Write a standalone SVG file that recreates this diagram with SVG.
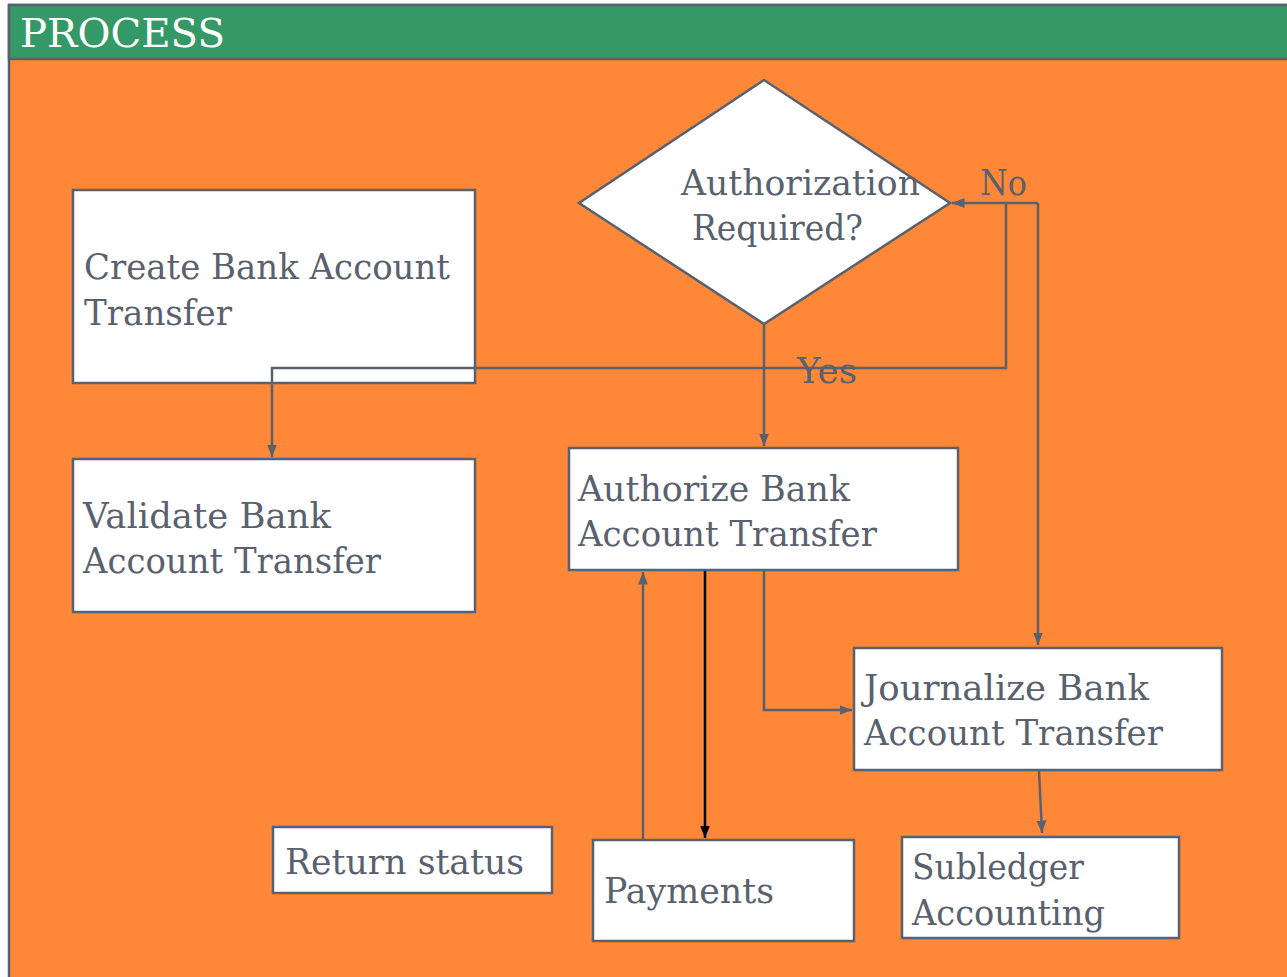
<svg xmlns="http://www.w3.org/2000/svg" width="1287" height="977" viewBox="0 0 1287 977">
<style>
.box{fill:#fff;stroke:#59616e;stroke-width:2.5}
.t{font-family:"DejaVu Serif","Liberation Serif",serif;font-size:36px;fill:#59616e}
.c{fill:none;stroke:#59616e;stroke-width:2.5}
</style>
<defs>
<marker id="ah" viewBox="0 0 10 10" refX="10" refY="5" markerWidth="5" markerHeight="5" orient="auto" markerUnits="strokeWidth"><path d="M0,1 L10,5 L0,9 Z" fill="#59616e"/></marker>
<marker id="ahk" viewBox="0 0 10 10" refX="10" refY="5" markerWidth="5" markerHeight="5" orient="auto" markerUnits="strokeWidth"><path d="M0,1 L10,5 L0,9 Z" fill="#000"/></marker>
</defs>
<rect width="1287" height="977" fill="#fff"/>
<g id="frame">
<rect x="9" y="5" width="1290" height="990" fill="#fe8838" stroke="#59616e" stroke-width="2.5"/>
<rect x="9" y="5" width="1290" height="54" fill="#349966" stroke="#59616e" stroke-width="2.5"/>
<text x="20" y="47" font-family="DejaVu Serif,Liberation Serif,serif" font-size="40" fill="#fff" textLength="205" lengthAdjust="spacingAndGlyphs">PROCESS</text>
</g>
<g id="create">
<rect class="box" x="73" y="190" width="402" height="193"/>
<text class="t" x="84" y="279" textLength="366" lengthAdjust="spacingAndGlyphs">Create Bank Account</text>
<text class="t" x="84" y="325" textLength="148" lengthAdjust="spacingAndGlyphs">Transfer</text>
</g>
<g id="validate">
<rect class="box" x="73" y="459" width="402" height="153"/>
<text class="t" x="83" y="528" textLength="248" lengthAdjust="spacingAndGlyphs">Validate Bank</text>
<text class="t" x="83" y="573" textLength="298" lengthAdjust="spacingAndGlyphs">Account Transfer</text>
</g>
<g id="decision">
<polygon class="box" points="764,80 950,203 764,324 579,203"/>
<text class="t" x="681" y="195" textLength="239" lengthAdjust="spacingAndGlyphs">Authorization</text>
<text class="t" x="692" y="240" textLength="171" lengthAdjust="spacingAndGlyphs">Required?</text>
</g>
<g id="authorize">
<rect class="box" x="569" y="448" width="389" height="122"/>
<text class="t" x="578" y="501" textLength="272" lengthAdjust="spacingAndGlyphs">Authorize Bank</text>
<text class="t" x="578" y="546" textLength="299" lengthAdjust="spacingAndGlyphs">Account Transfer</text>
</g>
<g id="journalize">
<rect class="box" x="854" y="648" width="368" height="122"/>
<text class="t" x="864" y="700" textLength="285" lengthAdjust="spacingAndGlyphs">Journalize Bank</text>
<text class="t" x="864" y="745" textLength="299" lengthAdjust="spacingAndGlyphs">Account Transfer</text>
</g>
<g id="return">
<rect class="box" x="273" y="827" width="279" height="66"/>
<text class="t" x="285" y="874" textLength="239" lengthAdjust="spacingAndGlyphs">Return status</text>
</g>
<g id="payments">
<rect class="box" x="593" y="840" width="261" height="101"/>
<text class="t" x="604" y="903" textLength="170" lengthAdjust="spacingAndGlyphs">Payments</text>
</g>
<g id="subledger">
<rect class="box" x="902" y="837" width="277" height="101"/>
<text class="t" x="912" y="879" textLength="172" lengthAdjust="spacingAndGlyphs">Subledger</text>
<text class="t" x="912" y="925" textLength="193" lengthAdjust="spacingAndGlyphs">Accounting</text>
</g>
<g id="connectors">
<path class="c" d="M1006,203 V368 H272 V457" marker-end="url(#ah)"/>
<path class="c" d="M1038,203 H952" marker-end="url(#ah)"/>
<path class="c" d="M1038,203 V645" marker-end="url(#ah)"/>
<path class="c" d="M764,324 V446" marker-end="url(#ah)"/>
<path class="c" d="M764,571 V710 H852" marker-end="url(#ah)"/>
<path d="M705,571 V838" fill="none" stroke="#000" stroke-width="2.5" marker-end="url(#ahk)"/>
<path class="c" d="M643,840 V572" marker-end="url(#ah)"/>
<path class="c" d="M1039,771 L1042,833" marker-end="url(#ah)"/>
<text class="t" x="980" y="195" textLength="47" lengthAdjust="spacingAndGlyphs">No</text>
<text class="t" x="797" y="383" textLength="60" lengthAdjust="spacingAndGlyphs">Yes</text>
</g>
</svg>
